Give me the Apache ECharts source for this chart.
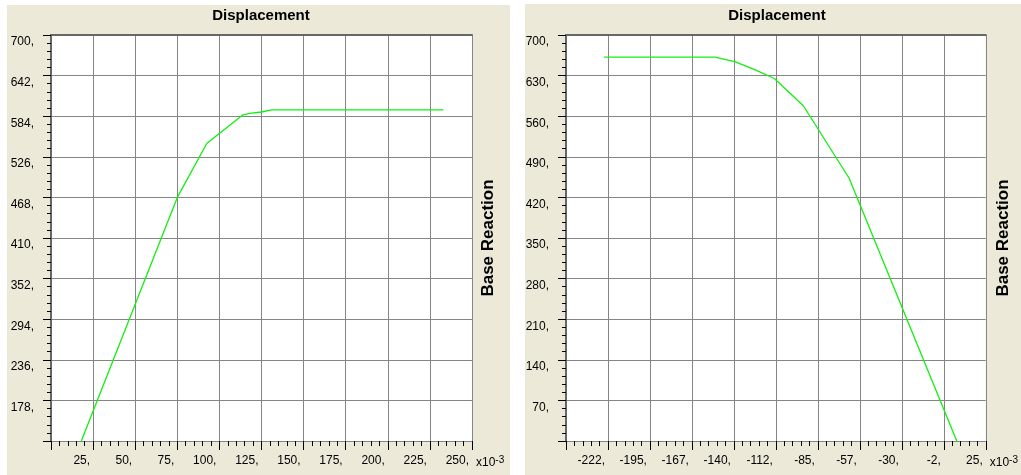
<!DOCTYPE html>
<html>
<head>
<meta charset="utf-8">
<script src="https://cdn.jsdelivr.net/npm/echarts@6/dist/echarts.min.js"></script>
<style>
html,body{margin:0;padding:0;background:#fff;}
#chart{width:1021px;height:475px;}
</style>
</head>
<body>
<div id="chart"></div>
<script>
// ---- data (displacement in x10^-3, base reaction) ----
const leftDisp  = [18, 75, 92.5, 114, 118, 125, 131, 233];
const leftReact = [120, 468, 545, 586, 588, 590, 593, 593];
const rightDisp  = [-225, -152.5, -139, -126, -113.5, -94.5, -64.5, 6];
const rightReact = [662, 662, 653.5, 640, 625, 578, 453, 0];

const titles = ['Displacement', 'Displacement'];
const sideTitle = 'Base Reaction';
const unitLabel = 'x10';
const unitExp = '-3';

// axis ranges [min, max, interval]
const leftXRange = [0, 250, 25];
const leftYRange = [120, 700, 58];
const rightXRange = [-250, 25, 27.5];
const rightYRange = [0, 700, 70];

const BG = '#ECE9D8';
const GRIDC = '#858585';
const FRAME = '#666666';
const LINEC = '#10f010';
const FONT = "'Liberation Sans Narrow','Arial Narrow','Liberation Sans',Arial,sans-serif";

function pairs(xs, ys){ return xs.map((x,i)=>[x, ys[i]]); }
function fmt(minV){ return function(v){ if (Math.abs(v-minV) < 1e-9) return ''; return Math.trunc(v) + ','; }; }

const grids = [
  {left: 51, right: 549, top: 35, bottom: 34},
  {left: 566, right: 32, top: 35, bottom: 34}
];

function bottomX(gi, r){
  return {
    type:'value', gridIndex: gi, position:'bottom', min:r[0], max:r[1], interval:r[2],
    axisLine:{show:false, onZero:false},
    axisTick:{show:true, inside:false, length:9, lineStyle:{color:'#000', width:1}},
    minorTick:{show:true, splitNumber:5, length:5, lineStyle:{color:'#000', width:1}},
    axisLabel:{show:true, formatter: fmt(r[0]), align:'right', verticalAlign:'top', margin:14,
      padding:[0,3,0,0], color:'#000', fontFamily: FONT, fontSize:12, showMinLabel:true, showMaxLabel:true},
    splitLine:{show:true, lineStyle:{color:GRIDC, width:1}},
    name: '{a|' + unitLabel + '}{b|' + unitExp + '}', nameLocation:'end', nameGap:4,
    nameTextStyle:{align:'left', verticalAlign:'top', padding:[14,0,0,0],
      rich:{a:{fontFamily:FONT, fontSize:12, color:'#000'}, b:{fontFamily:FONT, fontSize:10, color:'#000', verticalAlign:'top', padding:[0,0,6,0]}}}
  };
}
function topX(gi, r){
  return {
    type:'value', gridIndex: gi, position:'top', min:r[0], max:r[1], interval:r[2],
    axisLine:{show:true, onZero:false, lineStyle:{color:FRAME, width:2}},
    axisTick:{show:false}, axisLabel:{show:false}, splitLine:{show:false}
  };
}
function leftY(gi, r){
  return {
    type:'value', gridIndex: gi, position:'left', min:r[0], max:r[1], interval:r[2],
    axisLine:{show:true, onZero:false, lineStyle:{color:FRAME, width:2}},
    axisTick:{show:true, inside:false, length:8, lineStyle:{color:'#000', width:1}},
    minorTick:{show:true, splitNumber:5, length:4, lineStyle:{color:'#000', width:1}},
    axisLabel:{show:true, formatter: fmt(r[0]), align:'right', verticalAlign:'top', margin:17,
      padding:[1,0,0,0], color:'#000', fontFamily: FONT, fontSize:12, showMinLabel:true, showMaxLabel:true},
    splitLine:{show:true, lineStyle:{color:GRIDC, width:1}}
  };
}

const chart = echarts.init(document.getElementById('chart'));
const option = {
  animation:false,
  backgroundColor:'#ffffff',
  title:[
    {text: titles[0], left: 261, top: 8, padding:0, textAlign:'center',
      textStyle:{fontFamily:"'Liberation Sans',Arial,sans-serif", fontWeight:'bold', fontSize:15, color:'#000'}},
    {text: titles[1], left: 777, top: 8, padding:0, textAlign:'center',
      textStyle:{fontFamily:"'Liberation Sans',Arial,sans-serif", fontWeight:'bold', fontSize:15, color:'#000'}}
  ],
  graphic:[
    {type:'rect', z:-10, silent:true, shape:{x:7, y:5, width:503, height:470}, style:{fill:BG}},
    {type:'rect', z:-10, silent:true, shape:{x:525, y:4, width:496, height:471}, style:{fill:BG}},
    {type:'text', x:488, y:238, rotation:Math.PI/2, silent:true,
      style:{text: sideTitle, fill:'#000', font:"bold 17px 'Liberation Sans', Arial, sans-serif", align:'center', verticalAlign:'middle'}},
    {type:'text', x:1003, y:238, rotation:Math.PI/2, silent:true,
      style:{text: sideTitle, fill:'#000', font:"bold 17px 'Liberation Sans', Arial, sans-serif", align:'center', verticalAlign:'middle'}}
  ],
  grid: grids.map(g => Object.assign({show:true, backgroundColor:'#ffffff', borderWidth:0}, g)),
  xAxis:[ bottomX(0, leftXRange), topX(0, leftXRange), bottomX(1, rightXRange), topX(1, rightXRange) ],
  yAxis:[ leftY(0, leftYRange), leftY(1, rightYRange) ],
  series:[
    {type:'line', xAxisIndex:0, yAxisIndex:0, data: pairs(leftDisp, leftReact), showSymbol:false, symbol:'none',
      lineStyle:{color:LINEC, width:1.3}, clip:true},
    {type:'line', xAxisIndex:2, yAxisIndex:1, data: pairs(rightDisp, rightReact), showSymbol:false, symbol:'none',
      lineStyle:{color:LINEC, width:1.3}, clip:true}
  ]
};
chart.setOption(option);
</script>
</body>
</html>
